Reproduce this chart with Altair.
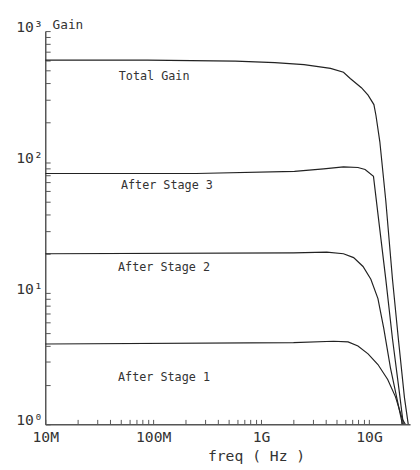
import altair as alt
import pandas as pd

# ---- data ----
total_freq = [1e7, 8.8e7, 5.8e8, 1.34e9, 2.5e9, 4.4e9, 5.8e9, 6.7e9, 8.5e9, 9.8e9,
              1.11e10, 1.16e10, 1.26e10, 1.43e10, 1.65e10, 1.87e10, 2.13e10, 2.31e10]
total_gain = [600, 600, 590, 575, 555, 520, 485, 435, 370, 325,
              275, 227, 143, 51, 12.8, 4.5, 1.6, 1.0]

st3_freq = [1e7, 2.5e8, 2.04e9, 3.8e9, 5.8e9, 7.9e9, 9.2e9, 1.1e10, 1.23e10, 1.43e10, 1.65e10, 1.91e10, 2.08e10]
st3_gain = [82, 82, 85, 89, 92, 91, 88, 78, 36, 12.8, 4.5, 1.76, 1.0]

st2_freq = [1e7, 2e9, 4.06e9, 5.8e9, 7.2e9, 8.8e9, 1.04e10, 1.21e10, 1.37e10, 1.58e10, 1.84e10, 2.04e10]
st2_gain = [20, 20.3, 20.6, 20, 18.7, 16, 12.8, 9.1, 5.4, 2.7, 1.49, 1.0]

st1_freq = [1e7, 2e9, 4.7e9, 6.4e9, 7.9e9, 9.8e9, 1.21e10, 1.49e10, 1.76e10, 2.04e10, 2.17e10]
st1_gain = [4.1, 4.2, 4.3, 4.25, 3.96, 3.45, 2.86, 2.2, 1.62, 1.09, 1.0]

label_text = ["Total Gain", "After Stage 3", "After Stage 2", "After Stage 1"]
label_freq = [1.02e8, 1.34e8, 1.26e8, 1.26e8]
label_gain = [452, 66.8, 15.7, 2.29]

xtick_vals = [1e7, 1e8, 1e9, 1e10]
xtick_labels = ["10M", "100M", "1G", "10G"]
ytick_vals = [1, 10, 100, 1000]
ytick_labels = ["10\u2070", "10\u00b9", "10\u00b2", "10\u00b3"]

xminor = [float(m * 10 ** e) for e in range(7, 11) for m in range(1, 10) if m * 10 ** e <= 2.4e10]
yminor = [float(m * 10 ** e) for e in range(0, 3) for m in range(1, 10)] + [1000.0]

# ---- build tables ----
rows = []
for name, fr, gn in [("Total", total_freq, total_gain), ("S3", st3_freq, st3_gain),
                     ("S2", st2_freq, st2_gain), ("S1", st1_freq, st1_gain)]:
    for i, (f, g) in enumerate(zip(fr, gn)):
        rows.append({"series": name, "freq": float(f), "gain": float(g), "order": i})
curves = pd.DataFrame(rows)
labels = pd.DataFrame({"text": label_text, "freq": label_freq, "gain": label_gain})

W, H = 372, 401
FONT = "DejaVu Sans Mono"
INK = "#222222"
TXT = "#333333"
TICK = 5


def lab_expr(vals, labs):
    parts = " : ".join(f"abs(datum.value - {v}) < {v}*0.01 ? '{l}'" for v, l in zip(vals, labs))
    return parts + " : ''"


xscale = alt.Scale(type="log", domain=[1e7, 2.4e10])
yscale = alt.Scale(type="log", domain=[1, 1000])

# ticks point inward (negative size through an expression)
xaxis = alt.Axis(values=xminor, labelExpr=lab_expr(xtick_vals, xtick_labels),
                 grid=False, ticks=True, tickSize={"expr": f"-{TICK}"}, tickColor="#555",
                 tickWidth=1, domainColor="#555", domainWidth=1.5,
                 labelFont=FONT, labelFontSize=15, labelColor=TXT, labelFlush=False,
                 labelPadding=6 + TICK, labelBaseline="top", labelOverlap=False,
                 title="freq ( Hz )", titleFont=FONT, titleFontSize=15, titleFontWeight="normal",
                 titleColor=TXT, titleX=215, titleY=37, titleAlign="center",
                 titleBaseline="alphabetic")
yaxis = alt.Axis(values=yminor, labelExpr=lab_expr(ytick_vals, ytick_labels),
                 grid=False, ticks=True, tickSize={"expr": f"-{TICK}"}, tickColor="#555",
                 tickWidth=1, domainColor="#555", domainWidth=1.5,
                 labelFont=FONT, labelFontSize=15, labelColor=TXT, labelFlush=False,
                 labelPadding=3 + TICK, labelBaseline="alphabetic", labelAlign="right",
                 labelOverlap=False,
                 title="Gain", titleFont=FONT, titleFontSize=13, titleFontWeight="normal",
                 titleColor=TXT, titleAngle=0, titleX=7, titleY=-3, titleAlign="left",
                 titleBaseline="alphabetic")

lines = alt.Chart(curves).mark_line(color=INK, strokeWidth=1.2, clip=True).encode(
    x=alt.X("freq:Q", scale=xscale, axis=xaxis),
    y=alt.Y("gain:Q", scale=yscale, axis=yaxis),
    detail="series:N",
    order="order:Q",
)

texts = alt.Chart(labels).mark_text(font=FONT, fontSize=12, color=TXT, baseline="middle",
                                    align="center").encode(
    x=alt.X("freq:Q", scale=xscale),
    y=alt.Y("gain:Q", scale=yscale),
    text="text:N",
)

chart = alt.layer(lines, texts).properties(
    width=W, height=H,
    autosize=alt.AutoSizeParams(type="none"),
    padding={"left": 38, "top": 19, "right": 2, "bottom": 40},
    background="white",
).configure_view(stroke=None)

chart.save("out.html", embed_options={"renderer": "svg", "actions": False})
